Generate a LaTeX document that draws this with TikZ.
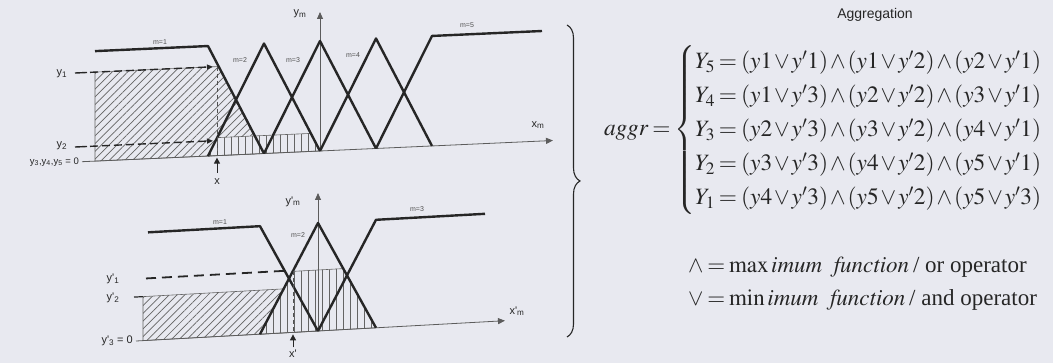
\documentclass[tikz,border=0pt]{standalone}
\usepackage{amsmath}
\usepackage{mathptmx}
\usepackage{fontspec}
\setmainfont{Liberation Serif}
\newfontfamily\labelfont{Liberation Sans}
\usetikzlibrary{positioning,arrows.meta,patterns.meta,decorations.pathreplacing}
\definecolor{Paper}{HTML}{E8E9F0}
\definecolor{Ink}{HTML}{262626}
\definecolor{Hatch}{HTML}{646464}

\begin{document}
\begin{tikzpicture}[x=1pt,y=1pt,
  mf/.style={draw=Ink, line width=2.4pt, line join=round},
  axis/.style={draw=Ink!75, line width=0.8pt, -{Triangle[length=7pt,width=6pt]}},
  level/.style={draw=Ink, line width=1.4pt, dash pattern=on 8pt off 4pt},
  cut/.style={draw=Ink!80, line width=0.7pt, dash pattern=on 4pt off 3pt},
  lbl/.style={font=\labelfont\fontsize{7}{8}\selectfont, text=Ink!80, inner sep=0pt},
  tag/.style={font=\labelfont\fontsize{11}{12}\selectfont, text=Ink, inner sep=0pt},
  diag/.style={draw=Hatch, line width=0.6pt, pattern={Lines[angle=45,distance=5.5pt,line width=0.7pt]}, pattern color=Hatch},
  vert/.style={draw=Hatch, line width=0.6pt, fill=Paper, postaction={pattern={Lines[angle=90,distance=7pt,line width=0.7pt]}, pattern color=Hatch}},
  eq/.style={anchor=west, inner sep=0pt, text=Ink}]
\fill[Paper] (0,0) rectangle (1053,363);
\useasboundingbox (0,0) rectangle (1053,363);

% upper input, five sets
\begin{scope}[shift={(320,212)}, yslant=0.045]
\path[diag] (-225,0) -- (-225,89) -- (-101.3,89) -- (-65.2,18) -- (-65.2,0) -- cycle;
\path[vert] (-112,0) -- (-102.8,18) -- (-9.2,18) -- (0,0) -- cycle;
\draw[axis] (-238,0) -- (233,0);
\draw[axis] (0,0) -- (0,139);
\draw[mf] (-225,110) -- (-112,110) -- (-56,0);
\foreach \c in {-56,0,56}
  \draw[mf] (\c-56,0) -- (\c,110) -- (\c+56,0);
\draw[mf] (56,0) -- (112,110) -- (222,110);
\draw[cut] (-103,89) -- (-103,0);
\draw[level, -{Triangle[length=6pt,width=5pt]}] (-230,89) -- (-107,89);
\draw[level, -{Triangle[length=6pt,width=5pt]}] (-230,15) -- (-107,15);
\draw[line width=1.4pt, draw=Ink] (-245,89) -- (-233,89);
\draw[line width=1.4pt, draw=Ink] (-245,15) -- (-233,15);
\draw[line width=1pt, draw=Ink, -{Triangle[length=6pt,width=6pt]}] (-103,-17) -- (-103,-2);
\node[tag] (ym) at (-20,138) {y\textsubscript{m}};
\node[tag] (xm) at (218,16) {x\textsubscript{m}};
\node[tag] (y1) at (-258,89) {y\textsubscript{1}};
\node[tag] (y2) at (-258,17) {y\textsubscript{2}};
\node[tag, font=\labelfont\fontsize{9.5}{10}\selectfont, anchor=east] (y0) at (-241,0) {y\textsubscript{3},y\textsubscript{4},y\textsubscript{5} = 0};
\node[tag] (x) at (-103,-26) {x};
\node[lbl] (m1) at (-160,116) {m=1};
\node[lbl] (m2) at (-80,95) {m=2};
\node[lbl] (m3) at (-27,92) {m=3};
\node[lbl] (m4) at (33,94) {m=4};
\node[lbl] (m5) at (147,119) {m=5};
\end{scope}

% lower input, three sets
\begin{scope}[shift={(318,32)}, yslant=0.055]
\path[diag] (-175,0) -- (-175,44) -- (-23.6,44) -- (0,0) -- cycle;
\path[vert] (-58,0) -- (-25.2,61) -- (25.2,61) -- (58,0) -- cycle;
\draw[axis] (-182,0) -- (187,0);
\draw[axis] (0,0) -- (0,138);
\draw[mf] (-170,108) -- (-58,108) -- (0,0);
\draw[mf] (-58,0) -- (0,108) -- (58,0);
\draw[mf] (0,0) -- (58,108) -- (167,108);
\draw[cut] (-25,61) -- (-25,0);
\draw[level, line width=1.8pt, dash pattern=on 10pt off 6pt] (-172,62) -- (-33,62);
\draw[line width=1.2pt, draw=Ink] (-184,44) -- (-175,44);
\draw[line width=1pt, draw=Ink, -{Triangle[length=6pt,width=6pt]}] (-25,-15) -- (-25,-2);
\node[tag] (ypm) at (-25,131) {y'\textsubscript{m}};
\node[tag] (xpm) at (199,9) {x'\textsubscript{m}};
\node[tag] (yp1) at (-205,63) {y'\textsubscript{1}};
\node[tag] (yp2) at (-205,44) {y'\textsubscript{2}};
\node[tag, anchor=east] (yp0) at (-185,0) {y'\textsubscript{3} = 0};
\node[tag] (xp) at (-25,-21) {x'};
\node[lbl] (n1) at (-98,114) {m=1};
\node[lbl] (n2) at (-20,97) {m=2};
\node[lbl] (n3) at (99,116) {m=3};
\end{scope}

\draw[decorate, decoration={brace, amplitude=13pt}, line width=1.1pt, draw=Ink] (567,338) -- (567,26);

% aggregation rules
\node[tag, font=\labelfont\fontsize{14}{15}\selectfont] (title) at (875,348) {Aggregation};
\node[eq, font=\fontsize{23.4}{34}\selectfont] (aggr) at (604,233) {\medmuskip=1.5mu\thickmuskip=3mu
$\mathit{aggr}=\left\{\begin{array}{@{}l@{}}
Y_5=(y1\vee y'1)\wedge(y1\vee y'2)\wedge(y2\vee y'1)\\
Y_4=(y1\vee y'3)\wedge(y2\vee y'2)\wedge(y3\vee y'1)\\
Y_3=(y2\vee y'3)\wedge(y3\vee y'2)\wedge(y4\vee y'1)\\
Y_2=(y3\vee y'3)\wedge(y4\vee y'2)\wedge(y5\vee y'1)\\
Y_1=(y4\vee y'3)\wedge(y5\vee y'2)\wedge(y5\vee y'3)
\end{array}\right.$};
\node[eq, font=\fontsize{23}{28}\selectfont] (orop) at (688,96) {\thickmuskip=3mu$\wedge=\mathrm{max}\,\mathit{imum}\ \ \mathit{function}$\,/ or operator};
\node[eq, font=\fontsize{23}{28}\selectfont] (andop) at (688,63) {\thickmuskip=3mu$\vee=\mathrm{min}\,\mathit{imum}\ \ \mathit{function}$\,/ and operator};
\end{tikzpicture}
\end{document}
